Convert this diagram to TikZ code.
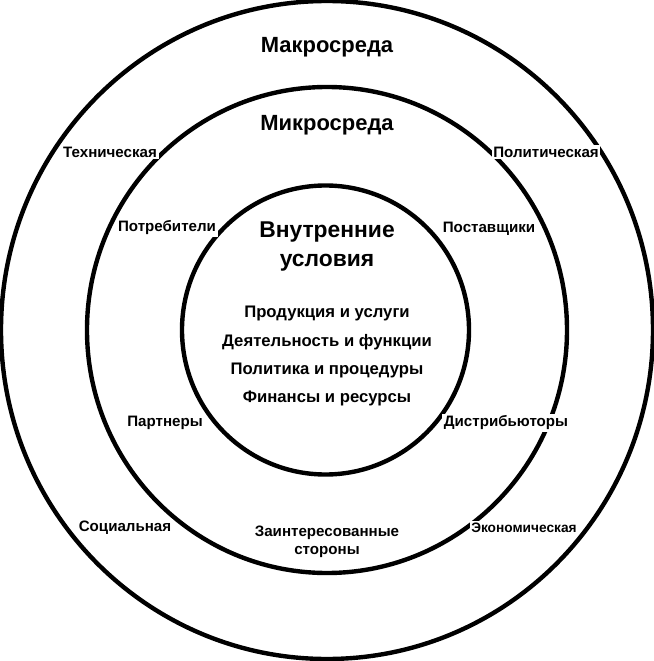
\documentclass[tikz,border=0pt]{standalone}
\usepackage{fontspec}
\setmainfont{Liberation Sans}
\begin{document}
\begin{tikzpicture}[scale=2, line join=round, line cap=round,
    ring/.style={line width=2.5pt},
    title/.style={font=\bfseries\fontsize{12.5}{15}\selectfont, align=center},
    item/.style={font=\bfseries\fontsize{9.5}{11}\selectfont},
    factor/.style={font=\bfseries\fontsize{8.6}{10}\selectfont, fill=white,
      inner sep=1pt, align=center}]
  \useasboundingbox (-3.27, -3.31) rectangle (3.27, 3.30);

  % Circles
  \coordinate (O) at (0, 0);
  \draw[ring] (O) ellipse (3.26 and 3.29);
  \draw[ring] (O) ellipse (2.40 and 2.43);
  \draw[ring] (-0.015, 0) ellipse (1.435 and 1.445);

  % Titles
  \node[title] (macro) at (0, 2.83) {Макросреда};
  \node[title] (micro) at (0, 2.05) {Микросреда};
  \node[title, font=\bfseries\fontsize{13}{16.5}\selectfont] (inner) at (0, 0.83)
    {Внутренние\\условия};

  % Internal conditions
  \node[item] (prod) at (0, 0.17) {Продукция и услуги};
  \node[item] (func) at (0, -0.12) {Деятельность и функции};
  \node[item] (proc) at (0, -0.40) {Политика и процедуры};
  \node[item] (fin) at (0, -0.68) {Финансы и ресурсы};

  % Micro environment
  \node[factor] (cons) at (-1.60, 1.02) {Потребители};
  \node[factor] (supp) at (1.62, 1.01) {Поставщики};
  \node[factor] (part) at (-1.62, -0.93) {Партнеры};
  \node[factor] (dist) at (1.79, -0.93) {Дистрибьюторы};
  \node[factor] (stake) at (0, -2.12) {Заинтересованные\\стороны};

  % Macro environment
  \node[factor] (tech) at (-2.17, 1.78) {Техническая};
  \node[factor] (pol) at (2.19, 1.78) {Политическая};
  \node[factor] (soc) at (-2.02, -1.98) {Социальная};
  \node[factor, font=\bfseries\fontsize{7.8}{10}\selectfont] (econ) at (1.97, -1.98)
    {Экономическая};
\end{tikzpicture}
\end{document}
